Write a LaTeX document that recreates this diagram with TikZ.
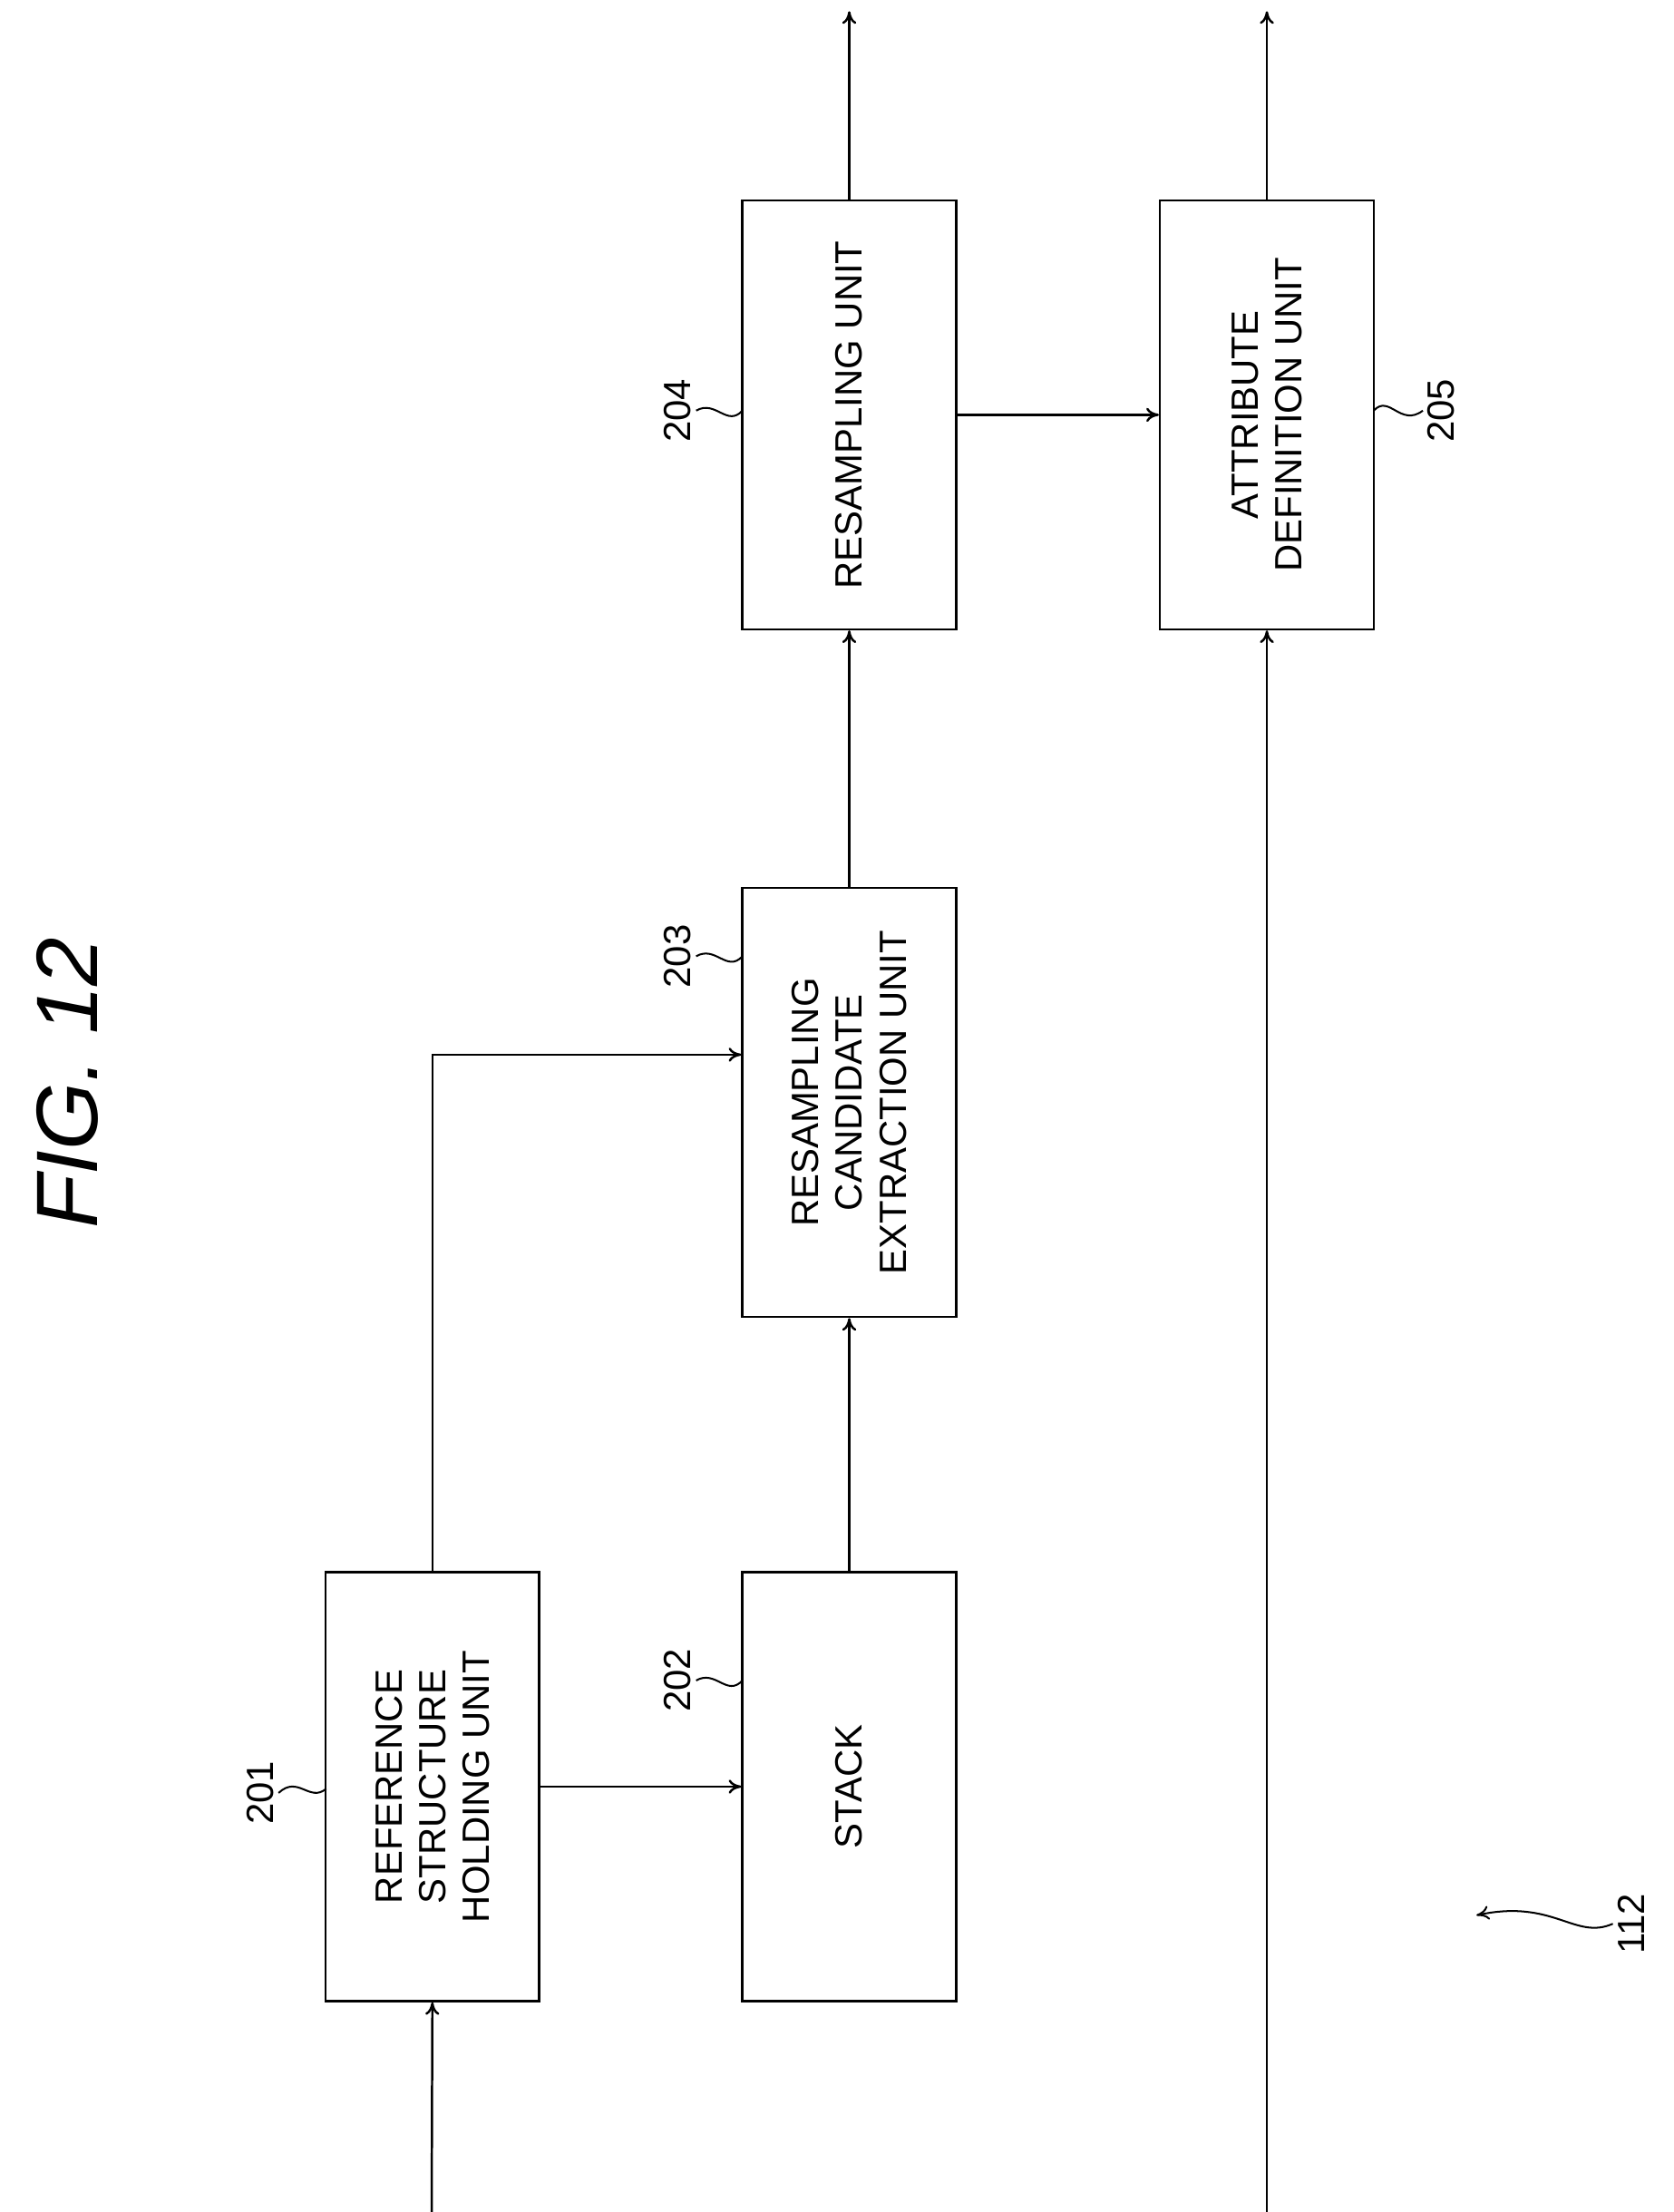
\documentclass[tikz,border=0pt]{standalone}
\usepackage{fontspec}
\setmainfont{Liberation Sans}
\usetikzlibrary{arrows.meta}
\tikzset{
>={To[length=9pt,width=10pt]},
blocco/.style={draw,line width=1.6pt,rotate=90,minimum width=305pt,minimum height=152pt,align=center,inner sep=0pt},
freccia/.style={->,line width=1.6pt},
onda/.style={line width=1.3pt},
numero/.style={rotate=90,font=\fontsize{27}{31}\selectfont}}

\begin{document}
\begin{tikzpicture}[x=1pt,y=-1pt,font=\fontsize{27}{31}\selectfont]

\useasboundingbox (0,0) rectangle (1190,1573);
\node[rotate=90,font=\fontsize{62}{70}\selectfont\itshape] (fig) at (48,770) {FIG. 12};

\node[blocco] (b201) at (307.5,1270.5) {REFERENCE\\STRUCTURE\\HOLDING UNIT};
\node[blocco] (b202) at (604,1270.5) {STACK};
\node[blocco] (b203) at (604,784) {RESAMPLING\\CANDIDATE\\EXTRACTION UNIT};
\node[blocco] (b204) at (604,295) {RESAMPLING UNIT};
\node[blocco] (b205) at (901,295) {ATTRIBUTE\\DEFINITION UNIT};

\coordinate (in1) at (307,1573);
\coordinate (in2) at (901,1573);
\coordinate (out1) at (604,8);
\coordinate (out2) at (901,8);

\draw[freccia] (in1) -- (b201.west);
\draw[freccia] (b201.south) -- (b202.north);
\draw[freccia] (b201.east) |- ([yshift=34pt]b203.north);
\draw[freccia] (b202.east) -- (b203.west);
\draw[freccia] (b203.east) -- (b204.west);
\draw[freccia] (b204.east) -- (out1);
\draw[freccia] (b204.south) -- (b205.north);
\draw[freccia] (in2) -- (b205.west);
\draw[freccia] (b205.east) -- (out2);

% numeri di riferimento
\node[numero] (n201) at (185,1275) {201};
\node[numero] (n202) at (482,1195) {202};
\node[numero] (n203) at (482,680) {203};
\node[numero] (n204) at (482,292) {204};
\node[numero] (n205) at (1025,292) {205};
\node[numero] (n112) at (1160,1368) {112};

\draw[onda] (n201.south) .. controls (212,1262) and (220,1282) .. (232,1272);
\draw[onda] (n202.south) .. controls (509,1187) and (517,1207) .. (528,1195);
\draw[onda] (n203.south) .. controls (509,672) and (517,692) .. (528,680);
\draw[onda] (n204.south) .. controls (509,284) and (517,304) .. (528,292);
\draw[onda] (977,292) .. controls (988,280) and (996,304) .. (n205.north);
\draw[onda,->] (n112.north) .. controls (1120,1380) and (1105,1350) .. (1050,1362);

\end{tikzpicture}
\end{document}
